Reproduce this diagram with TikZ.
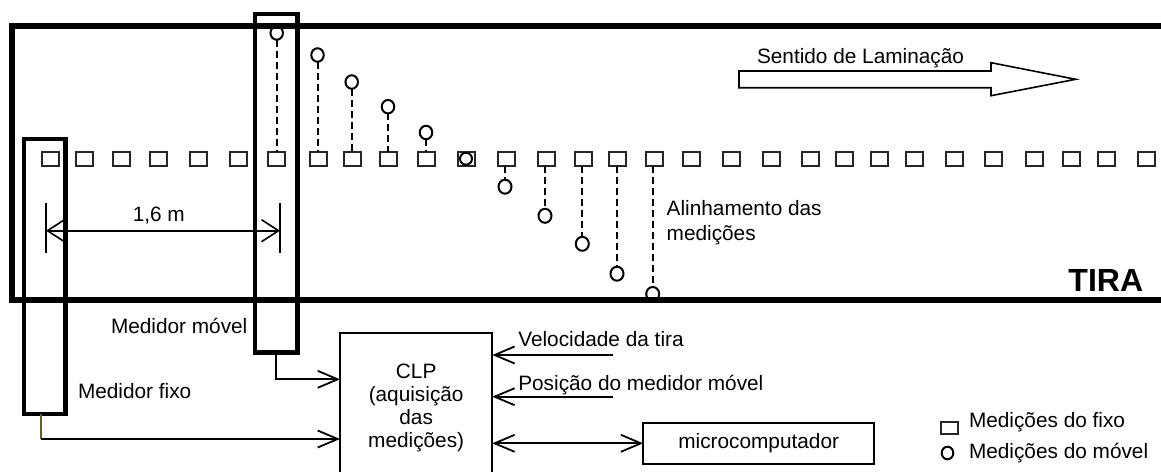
\documentclass[tikz,border=0pt]{standalone}
\usepackage{fontspec}
\setmainfont{Liberation Sans}
\usetikzlibrary{arrows.meta,shapes.geometric,calc}

\begin{document}
\begin{tikzpicture}[x=1pt,y=-1pt,
  txt/.style={font=\fontsize{20.8}{25}\selectfont, inner sep=0pt, outer sep=0pt},
  strip/.style={line width=6pt},
  gauge/.style={draw, line width=4.5pt, inner sep=0pt, outer sep=0pt},
  fixsq/.style={draw=black!85, line width=2pt, minimum width=17pt, minimum height=14pt, inner sep=0pt, outer sep=0pt},
  movc/.style={ellipse, draw, line width=2pt, minimum width=12.5pt, minimum height=13.5pt, inner sep=0pt, outer sep=0pt},
  alignline/.style={line width=2pt, dash pattern=on 7pt off 4pt},
  conn/.style={line width=1.8pt, -{Straight Barb[length=20pt,width=17pt]}},
  dimline/.style={line width=1.6pt, {Straight Barb[length=17pt,width=22pt]}-{Straight Barb[length=17pt,width=22pt]}},
  box/.style={draw, line width=1.8pt, inner sep=0pt, outer sep=0pt}
]
\clip (0,0) rectangle (1161,471);

% fixed gauge readings along the strip
\foreach \x [count=\i] in {50.3,84.7,121,158.3,198.7,238.3,276.3,318.3,352,388.7,
                           426,466,506,546,583.7,617.7,654,691.3,731.3,771.3,
                           810.5,844.7,879.5,914.8,954.5,993,1034.8,1071.5,1106.5,1146}
  \node[fixsq] (s\i) at (\x,158.7) {};

% moving gauge readings above the line
\foreach \x/\y/\s [count=\i] in {276.7/33/7, 317.5/55/8, 351.7/82/9, 388/106.7/10, 426/132.5/11} {
  \node[movc] (c\i) at (\x,\y) {};
  \draw[alignline] (c\i.south) -- (c\i.south |- s\s.north);
}
% reading that coincides with a fixed one
\node[movc, minimum width=12pt, minimum height=12pt] (c6) at (466,158.7) {};
% moving gauge readings below the line
\foreach \x/\y/\s [count=\i from 7] in {505/186.7/13, 545/215.8/14, 582.3/243.8/15, 617/273.7/16, 652.7/294/17} {
  \node[movc, minimum width=13pt, minimum height=14pt] (c\i) at (\x,\y) {};
  \draw[alignline] (c\i.north |- s\s.south) -- (c\i.north);
}

% the strip
\draw[strip] (1161,25.5) -- (11.7,25.5) -- (11.7,300) -- (1161,300);
\node[font=\fontsize{32}{36}\selectfont\bfseries, anchor=base east, inner sep=0pt] (tira) at (1143.3,291.7) {TIRA};

% rolling direction
\node[txt, anchor=base west] (sent) at (757,63.3) {Sentido de Laminação};
\draw[line width=1.6pt, line join=miter]
  (739,71) -- (991,71) -- (991,62.7) -- (1075.7,79.3) -- (991,95.7) -- (991,87.7) -- (739,87.7) -- cycle;

% gauges
\node[gauge, minimum width=41.5pt, minimum height=275pt] (fg) at (44.75,276.5) {};
\node[gauge, minimum width=42.5pt, minimum height=338.5pt] (mg) at (276.25,183.25) {};
\node[txt, anchor=base west] (mglabel) at (111,333.3) {Medidor móvel};
\node[txt, anchor=base west] (fglabel) at (78,398.3) {Medidor fixo};

% distance between gauges
\coordinate (dl) at (46,230.7);
\coordinate (dr) at (280,230.7);
\draw[line width=1.6pt] ([yshift=28pt]dl) -- ([yshift=-22.6pt]dl);
\draw[line width=1.6pt] ([yshift=28pt]dr) -- ([yshift=-22.6pt]dr);
\draw[dimline] (dl) -- (dr);
\node[txt, anchor=base] (dist) at (158.8,221.7) {1,6 m};

% alignment label (base anchor sits on the last line)
\node[txt, anchor=base west, align=left] (alin) at (666.7,240) {Alinhamento das\\medições};

% acquisition
\node[box, txt, font=\fontsize{20.8}{23.1}\selectfont, align=center,
      minimum width=152.3pt, minimum height=150pt] (clp) at (416.15,407.7)
  {CLP\\(aquisição\\das\\medições)};
\node[box, txt, minimum width=231pt, minimum height=41.3pt] (mc) at (758.7,443.3) {microcomputador};

\coordinate (movin) at ($(clp.north west)+(0,46.6)$);
\coordinate (fixin) at ($(clp.north west)+(0,106.3)$);
\coordinate (fixturn) at ([xshift=-4pt]fg.south |- fixin);
\draw[conn] ([xshift=-0.5pt]mg.south) |- (movin);
\draw[line width=1.8pt, draw=olive!60!black] ([xshift=-4pt]fg.south) -- (fixturn);
\draw[conn] (fixturn) -- (fixin);

\coordinate (velsrc) at (613.3,355);
\coordinate (possrc) at (613.3,396.7);
\draw[conn] (velsrc) -- (velsrc -| clp.east);
\draw[conn] (possrc) -- (possrc -| clp.east);
\node[txt, anchor=base west] (vel) at (518.3,346.7) {Velocidade da tira};
\node[txt, anchor=base west] (pos) at (518.3,390.7) {Posição do medidor móvel};
\draw[conn, {Straight Barb[length=20pt,width=17pt]}-{Straight Barb[length=20pt,width=17pt]}]
  (clp.east |- mc.west) -- (mc.west);

% legend
\node[fixsq, minimum height=12pt] (legsq) at (949.5,427.5) {};
\node[txt, anchor=base west] (legsqt) at (969,427.3) {Medições do fixo};
\node[movc, minimum width=11.6pt, minimum height=12.6pt] (legc) at (947.5,453) {};
\node[txt, anchor=base west] (legct) at (969,458.3) {Medições do móvel};
\end{tikzpicture}
\end{document}
